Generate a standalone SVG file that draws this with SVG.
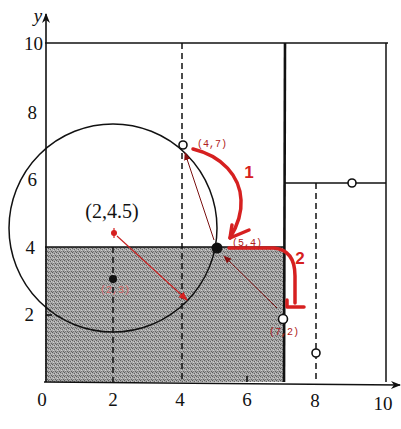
<svg xmlns="http://www.w3.org/2000/svg" width="401" height="429" viewBox="0 0 401 429">
<defs>
<style>
.ax{stroke:#111;stroke-width:1.6;fill:none}
.ln{stroke:#111;stroke-width:1.5;fill:none}
.dash{stroke:#111;stroke-width:1.5;stroke-dasharray:6,4;fill:none}
.serif{font-family:"Liberation Serif","Times New Roman","DejaVu Serif",serif;fill:#111}
.tick{font-size:19px}
.lab{font-family:"Liberation Mono","DejaVu Sans Mono",monospace;font-size:10px;fill:#b02020}
.red{stroke:#d62020;stroke-width:3.5;fill:none;stroke-linecap:round;stroke-linejoin:round}
.thin{stroke:#7a1010;stroke-width:1;fill:none}
.open{fill:#fff;stroke:#111;stroke-width:1.6}
</style>
<pattern id="stip" width="4" height="4" patternUnits="userSpaceOnUse">
<rect width="4" height="4" fill="#a6a6a6"/>
<rect x="0" y="0" width="1" height="1" fill="#5c5c5c"/>
<rect x="2" y="1" width="1" height="1" fill="#666"/>
<rect x="1" y="2" width="1" height="1" fill="#d0d0d0"/>
<rect x="3" y="3" width="1" height="1" fill="#606060"/>
<rect x="3" y="1" width="1" height="1" fill="#c8c8c8"/>
<rect x="1" y="3" width="1" height="1" fill="#7a7a7a"/>
</pattern>
<marker id="ah" viewBox="0 0 10 10" refX="9" refY="5" markerWidth="8" markerHeight="8" orient="auto-start-reverse" markerUnits="userSpaceOnUse">
<path d="M0,1 L10,5 L0,9 z" fill="#8a1010"/>
</marker>
<marker id="ahr" viewBox="0 0 10 10" refX="9" refY="5" markerWidth="9" markerHeight="9" orient="auto-start-reverse" markerUnits="userSpaceOnUse">
<path d="M0,1 L10,5 L0,9 z" fill="#d62020"/>
</marker>
<marker id="axa" viewBox="0 0 10 10" refX="9" refY="5" markerWidth="14" markerHeight="10" orient="auto" markerUnits="userSpaceOnUse">
<path d="M0,1 L10,5 L0,9 L3,5 z" fill="#111"/>
</marker>
</defs>
<rect width="401" height="429" fill="#fff"/>

<g id="shaded">
<rect x="45" y="247" width="239" height="135" fill="url(#stip)"/>
<line class="ln" x1="45" y1="247" x2="284" y2="247"/>
</g>

<g id="grid">
<line class="ln" x1="45" y1="43" x2="388" y2="43"/>
<line class="ln" x1="386" y1="43" x2="386" y2="382"/>
<line x1="285" y1="43" x2="284" y2="382" stroke="#111" stroke-width="2.6"/>
<line class="ln" x1="284" y1="183" x2="386" y2="183"/>
<line class="dash" x1="316" y1="183" x2="316" y2="382"/>
<line class="dash" x1="182" y1="43" x2="182" y2="382"/>
<line class="dash" x1="113" y1="247" x2="113" y2="382"/>
</g>

<g id="axes">
<line class="ax" x1="46" y1="382" x2="46" y2="14" marker-end="url(#axa)"/>
<line class="ax" x1="44" y1="382" x2="400" y2="385" marker-end="url(#axa)"/>
<line class="ax" x1="46" y1="315" x2="52" y2="315"/>
<line class="ax" x1="247" y1="382" x2="247" y2="376"/>
<text class="serif" x="38" y="22" font-style="italic" font-size="19" text-anchor="middle">y</text>
<text class="serif tick" x="43" y="50" text-anchor="end">10</text>
<text class="serif tick" x="37" y="119" text-anchor="end">8</text>
<text class="serif tick" x="37" y="186" text-anchor="end">6</text>
<text class="serif tick" x="35" y="254" text-anchor="end">4</text>
<text class="serif tick" x="34" y="321" text-anchor="end">2</text>
<text class="serif tick" x="42" y="406" text-anchor="middle">0</text>
<text class="serif tick" x="113" y="406" text-anchor="middle">2</text>
<text class="serif tick" x="180" y="406" text-anchor="middle">4</text>
<text class="serif tick" x="247" y="406" text-anchor="middle">6</text>
<text class="serif tick" x="315" y="407" text-anchor="middle">8</text>
<text class="serif tick" x="383" y="410" text-anchor="middle">10</text>
</g>

<g id="circle">
<circle cx="113" cy="228" r="104" class="ln"/>
</g>

<g id="connectors">
<line class="thin" x1="214" y1="240" x2="185" y2="153" marker-end="url(#ah)"/>
<line class="thin" x1="277" y1="308" x2="224" y2="256" marker-end="url(#ah)"/>
<line stroke="#c82020" stroke-width="1.1" x1="117" y1="236" x2="187" y2="300" marker-end="url(#ahr)"/>
<path class="red" d="M193,149 C222,156 240,176 241,200 C242,215 236,228 230,238"/>
<path class="red" d="M232,225 L230,238 L249,230"/>
<path class="red" d="M229,248 L274,248 Q295,250 295,276 L295,303"/>
<path class="red" d="M287,300 L287,307 L304,307"/>
</g>

<g id="pt-4-7"><circle class="open" cx="183" cy="145" r="4"/><text class="lab" x="197" y="147">(4,7)</text></g>
<g id="pt-5-4"><circle cx="217" cy="248" r="5.5" fill="#111"/><text class="lab" x="232" y="246">(5,4)</text></g>
<g id="pt-7-2"><circle class="open" cx="283" cy="319" r="4.5"/><text class="lab" x="269" y="335">(7,2)</text></g>
<g id="pt-8-1"><circle class="open" cx="316" cy="353" r="4"/></g>
<g id="pt-9-6"><circle class="open" cx="352" cy="183" r="4"/></g>
<g id="pt-2-3"><circle cx="113" cy="279" r="4" fill="#111"/><text class="lab" x="100" y="293" style="fill:#d86a6a">(2,3)</text></g>
<g id="pt-2-45">
<circle cx="114" cy="233" r="3" fill="#d62020"/>
<line x1="114" y1="228" x2="114" y2="238" stroke="#d62020" stroke-width="1.2"/>
<text class="serif" x="112" y="218" font-size="20" text-anchor="middle">(2,4.5)</text>
</g>
<g id="step-labels">
<text x="249" y="178" font-family="Liberation Sans,sans-serif" font-weight="bold" font-size="17" fill="#d62020" text-anchor="middle">1</text>
<text x="300" y="264" font-family="Liberation Sans,sans-serif" font-weight="bold" font-size="17" fill="#d62020" text-anchor="middle">2</text>
</g>
</svg>
